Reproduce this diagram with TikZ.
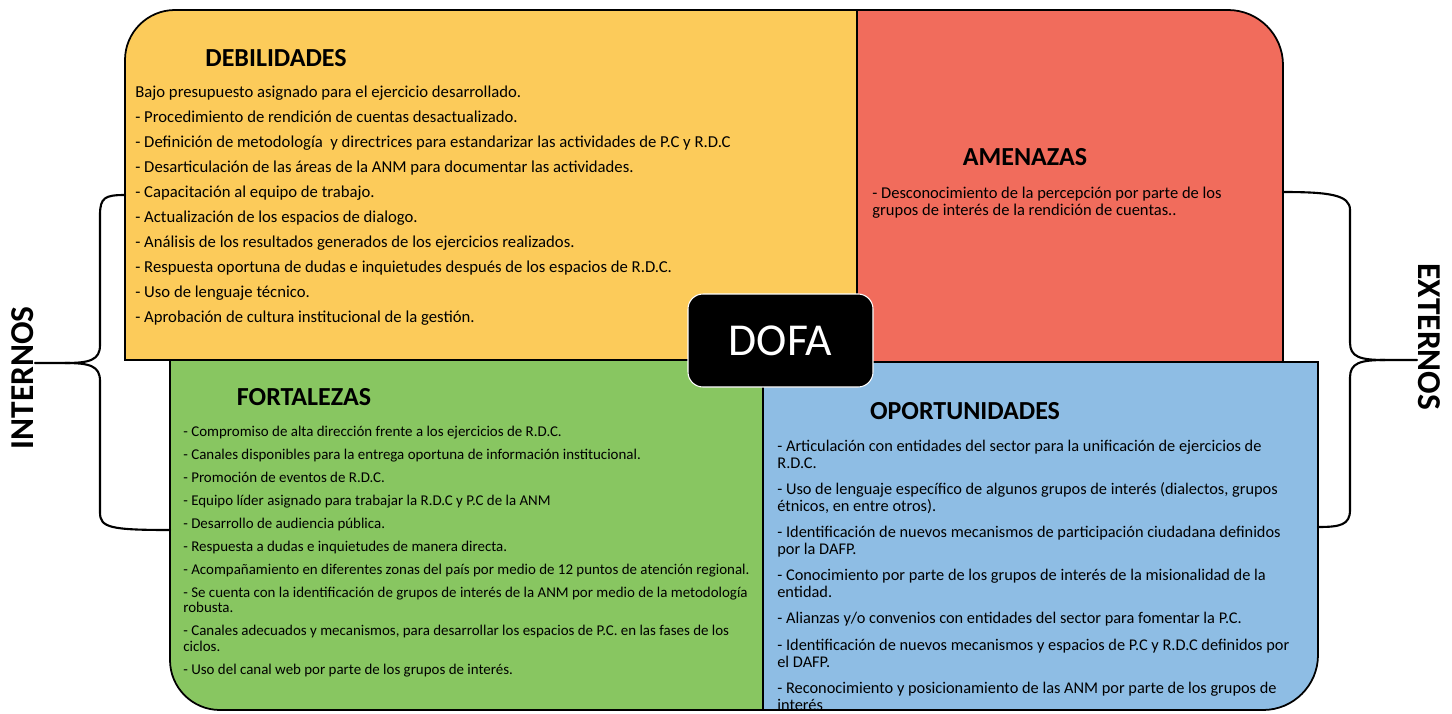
\documentclass[tikz,border=0pt]{standalone}
\usepackage{fontspec}
\setmainfont{Carlito}
\usepackage{tikz}
\usepackage{color}

\definecolor{dofayellow}{RGB}{252,203,90}
\definecolor{dofared}{RGB}{241,108,92}
\definecolor{dofagreen}{RGB}{136,198,97}
\definecolor{dofablue}{RGB}{142,189,228}

\begin{document}
\begin{tikzpicture}[%
    scale=1.0,
    frame/.style={draw=black, line width=1pt},
    heading/.style={font=\fontsize{14.8}{16}\selectfont\bfseries, inner sep=0pt},
    itemlist/.style={anchor=north west, align=left, inner sep=0pt},
    bracket/.style={line width=1.2pt, line cap=round, line join=round},
    sidelabel/.style={font=\fontsize{19}{20}\selectfont\bfseries, inner sep=0pt, anchor=base},
    ]
    \useasboundingbox (0,0) rectangle (29.04,-14.26);
    % quadrants
    \filldraw [frame, fill=dofayellow] (2.5,-7.2) -- (2.5,-3) [rounded corners=1cm] -- (2.5,-0.2) -- (10,-0.2) [sharp corners] -- (17.16,-0.2) -- (17.16,-7.2) -- cycle;
    \filldraw [frame, fill=dofared] (17.14,-7.24) -- (17.14,-0.2) -- (21,-0.2) [rounded corners=1.1cm] -- (25.66,-0.2) -- (25.66,-4) [sharp corners] -- (25.66,-7.24) -- cycle;
    \filldraw [frame, fill=dofagreen] (15.26,-7.2) -- (3.4,-7.2) -- (3.4,-11) [rounded corners=1cm] -- (3.4,-14.2) -- (9,-14.2) [sharp corners] -- (15.26,-14.2) -- cycle;
    \filldraw [frame, fill=dofablue] (15.26,-14.2) -- (15.26,-7.24) -- (26.36,-7.24) -- (26.36,-11) [rounded corners=1.1cm] -- (26.36,-14.2) -- (21,-14.2) [sharp corners] -- cycle;
    % centre label
    \node [fill=black, draw=white, line width=0.6pt, rounded corners=0.3cm, minimum width=3.7cm, minimum height=1.86cm, text=white, font=\fontsize{26}{28}\selectfont] (dofa) at (15.61,-6.81) {DOFA};
    % titles
    \node [heading] (deb) at (5.52,-1.16) {DEBILIDADES};
    \node [heading] (ame) at (20.5,-3.14) {AMENAZAS};
    \node [heading] (fort) at (6.08,-7.94) {FORTALEZAS};
    \node [heading] (opor) at (19.3,-8.22) {OPORTUNIDADES};
    % lists
    \node [itemlist, font=\fontsize{9.5}{14.17}\selectfont] (deblist) at (2.7,-1.72) {%
        Bajo presupuesto asignado para el ejercicio desarrollado.\\
        - Procedimiento de rendición de cuentas desactualizado.\\
        - Definición de metodología\ \ y directrices para estandarizar las actividades de P.C y R.D.C\\
        - Desarticulación de las áreas de la ANM para documentar las actividades.\\
        - Capacitación al equipo de trabajo.\\
        - Actualización de los espacios de dialogo.\\
        - Análisis de los resultados generados de los ejercicios realizados.\\
        - Respuesta oportuna de dudas e inquietudes después de los espacios de R.D.C.\\
        - Uso de lenguaje técnico.\\
        - Aprobación de cultura institucional de la gestión.};
    \node [itemlist, font=\fontsize{9.4}{9.64}\selectfont] (amelist) at (17.44,-3.74) {%
        - Desconocimiento de la percepción por parte de los\\
        grupos de interés de la rendición de cuentas..};
    \node [itemlist, font=\fontsize{8.5}{9.07}\selectfont] (fortlist) at (3.66,-8.51) {%
        - Compromiso de alta dirección frente a los ejercicios de R.D.C.\\[4pt]
        - Canales disponibles para la entrega oportuna de información institucional.\\[4pt]
        - Promoción de eventos de R.D.C.\\[4pt]
        - Equipo líder asignado para trabajar la R.D.C y P.C de la ANM\\[4pt]
        - Desarrollo de audiencia pública.\\[4pt]
        - Respuesta a dudas e inquietudes de manera directa.\\[4pt]
        - Acompañamiento en diferentes zonas del país por medio de 12 puntos de atención regional.\\[4pt]
        - Se cuenta con la identificación de grupos de interés de la ANM por medio de la metodología\\
        robusta.\\[4pt]
        - Canales adecuados y mecanismos, para desarrollar los espacios de P.C. en las fases de los\\
        ciclos.\\[4pt]
        - Uso del canal web por parte de los grupos de interés.};
    \node [itemlist, font=\fontsize{9.3}{9.64}\selectfont] (oporlist) at (15.54,-8.79) {%
        - Articulación con entidades del sector para la unificación de ejercicios de\\
        R.D.C.\\[5.3pt]
        - Uso de lenguaje específico de algunos grupos de interés (dialectos, grupos\\
        étnicos, en entre otros).\\[5.3pt]
        - Identificación de nuevos mecanismos de participación ciudadana definidos\\
        por la DAFP.\\[5.3pt]
        - Conocimiento por parte de los grupos de interés de la misionalidad de la\\
        entidad.\\[5.3pt]
        - Alianzas y/o convenios con entidades del sector para fomentar la P.C.\\[5.3pt]
        - Identificación de nuevos mecanismos y espacios de P.C y R.D.C definidos por\\
        el DAFP.\\[5.3pt]
        - Reconocimiento y posicionamiento de las ANM por parte de los grupos de\\
        interés};
    % braces
    \coordinate (inttip) at (0.7,-7.26);
    \coordinate (exttip) at (28.34,-7.2);
    \draw [bracket] (2.5,-3.9) .. controls (2.1,-3.9) and (2.0,-3.95) .. (2.0,-4.3) -- (2.0,-6.9) .. controls (2.0,-7.2) and (1.8,-7.26) .. (1.3,-7.26) -- (inttip);
    \draw [bracket] (1.3,-7.26) .. controls (1.8,-7.26) and (2.0,-7.32) .. (2.0,-7.62) -- (2.0,-10.25) .. controls (2.0,-10.55) and (2.2,-10.6) .. (3.4,-10.6);
    \draw [bracket] (25.66,-3.84) .. controls (26.6,-3.84) and (27.0,-3.9) .. (27.0,-4.2) -- (27.0,-6.85) .. controls (27.0,-7.14) and (27.2,-7.2) .. (27.7,-7.2) -- (exttip);
    \draw [bracket] (27.7,-7.2) .. controls (27.2,-7.2) and (27.0,-7.26) .. (27.0,-7.55) -- (27.0,-10.2) .. controls (27.0,-10.5) and (26.8,-10.54) .. (26.36,-10.54);
    \node [sidelabel, rotate=90] (internos) at (0.66,-7.56) {INTERNOS};
    \node [sidelabel, rotate=-90] (externos) at (28.36,-6.74) {EXTERNOS};
\end{tikzpicture}
\end{document}
